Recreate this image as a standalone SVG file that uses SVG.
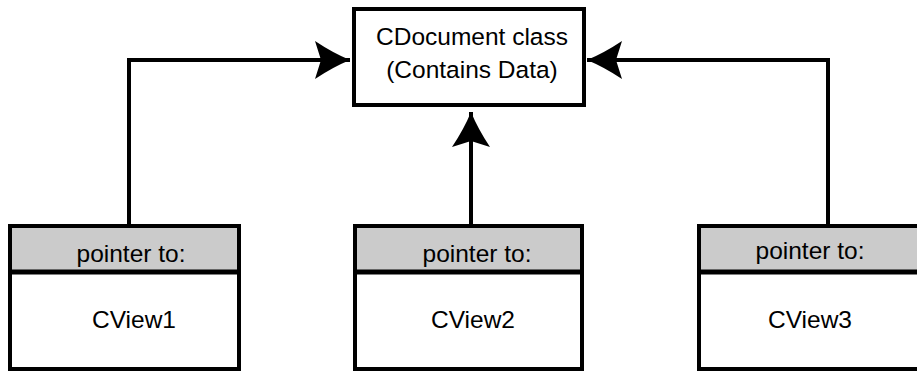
<svg xmlns="http://www.w3.org/2000/svg" width="917" height="372" viewBox="0 0 917 372">
  <style>
    .box { fill: #ffffff; stroke: #000000; stroke-width: 4; }
    .head { fill: #cbcbcb; stroke: #000000; stroke-width: 4; }
    .divider { stroke: #000000; stroke-width: 5; }
    .label { font-family: "Liberation Sans", Arial, Helvetica, sans-serif; font-size: 24.5px; fill: #000000; text-anchor: middle; }
    .link { fill: none; stroke: #000000; stroke-width: 4; stroke-linejoin: miter; }
  </style>
  <defs>
    <marker id="head" markerUnits="userSpaceOnUse" markerWidth="40" markerHeight="44" viewBox="-37 -22 40 44" refX="0" refY="0" orient="auto">
      <path d="M0,0 Q-17,-7 -35,-19 L-29,0 L-35,19 Q-17,7 0,0 Z" fill="#000000"/>
    </marker>
  </defs>

  <!-- document -->
  <g id="cdocument">
    <rect class="box" x="354" y="9" width="230" height="96"/>
    <text class="label" x="472" y="45">CDocument class</text>
    <text class="label" x="472" y="78">(Contains Data)</text>
  </g>

  <!-- views -->
  <g id="cview1">
    <rect class="box" x="10" y="226" width="229" height="143"/>
    <rect class="head" x="10" y="226" width="229" height="46"/>
    <line class="divider" x1="10" y1="272" x2="239" y2="272"/>
    <text class="label" x="131" y="262">pointer to:</text>
    <text class="label" x="134" y="328">CView1</text>
  </g>

  <g id="cview2">
    <rect class="box" x="355" y="226" width="227" height="143"/>
    <rect class="head" x="355" y="226" width="227" height="46"/>
    <line class="divider" x1="355" y1="272" x2="582" y2="272"/>
    <text class="label" x="477" y="262">pointer to:</text>
    <text class="label" x="473" y="328">CView2</text>
  </g>

  <g id="cview3">
    <rect class="box" x="699" y="226" width="240" height="143"/>
    <rect class="head" x="699" y="226" width="240" height="46"/>
    <line class="divider" x1="699" y1="272" x2="939" y2="272"/>
    <text class="label" x="810" y="259">pointer to:</text>
    <text class="label" x="810" y="328">CView3</text>
  </g>

  <!-- connectors -->
  <g id="connectors">
    <path class="link" d="M129,224 L129,60 L350,60" marker-end="url(#head)"/>
    <path class="link" d="M471,224 L471,112" marker-end="url(#head)"/>
    <path class="link" d="M828,224 L828,60 L587,60" marker-end="url(#head)"/>
  </g>
</svg>
